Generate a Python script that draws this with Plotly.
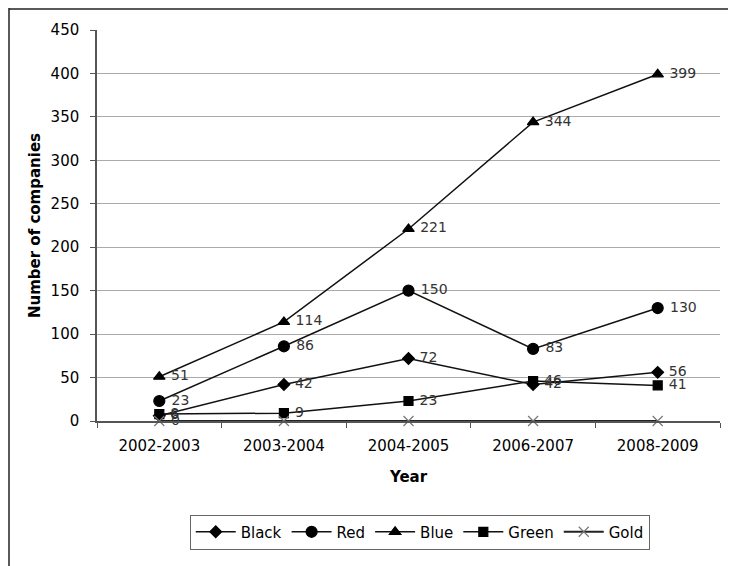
import plotly.graph_objects as go

years = ["2002-2003", "2003-2004", "2004-2005", "2006-2007", "2008-2009"]
black = [6, 42, 72, 42, 56]
red = [23, 86, 150, 83, 130]
blue = [51, 114, 221, 344, 399]
green = [8, 9, 23, 46, 41]
gold = [0, 0, 0, 0, 0]
gold_labels = ["0", "", "", "", ""]

FONT = "DejaVu Sans"

series = [
    ("Black", black, "diamond", 9, "#000000", [str(v) for v in black]),
    ("Red", red, "circle", 11, "#000000", [str(v) for v in red]),
    ("Blue", blue, "triangle-up", 10, "#000000", [str(v) for v in blue]),
    ("Green", green, "square", 9, "#000000", [str(v) for v in green]),
    ("Gold", gold, "x-thin", 10, "#777777", gold_labels),
]

fig = go.Figure()
for name, vals, sym, sz, mcol, labels in series:
    fig.add_trace(go.Scatter(
        x=years, y=vals, name=name, mode="lines+markers+text",
        text=[" " + t if t else t for t in labels], textposition="middle right",
        textfont=dict(family=FONT, size=14, color="#333333"),
        line=dict(color="#111111" if name != "Gold" else "#222222",
                  width=1.5 if name != "Gold" else 2),
        marker=dict(symbol=sym, size=sz, color="#000000",
                    line=dict(color=mcol, width=1.2)),
        cliponaxis=False,
    ))

# page has an 8px body margin, so figure coordinates are page coordinates minus 8
W, H = 736, 566
L, R, T, B = 89, 24, 22, 153
pw, ph = W - L - R, H - T - B

fig.update_layout(
    width=W, height=H,
    margin=dict(l=L, r=R, t=T, b=B),
    paper_bgcolor="white", plot_bgcolor="white",
    font=dict(family=FONT, size=15, color="#000000"),
    showlegend=True,
    legend=dict(orientation="h", x=0.518, xanchor="center", y=-0.284, yanchor="middle",
                bordercolor="#666666", borderwidth=1, font=dict(size=15),
                itemwidth=40),
    xaxis=dict(title=dict(text="<b>Year</b>", font=dict(size=15), standoff=18),
               automargin=False, ticklabelstandoff=10,
               showline=True, linecolor="#555555", linewidth=1.5,
               ticks="outside", tickson="boundaries", ticklen=5, tickcolor="#555555",
               showgrid=False, tickfont=dict(size=15), range=[-0.5, 4.5]),
    yaxis=dict(title=dict(text="<b>Number of companies</b>", font=dict(size=15), standoff=6),
               automargin=False, ticklabelstandoff=8,
               range=[0, 450], dtick=50, showline=True, linecolor="#555555", linewidth=1.5,
               ticks="outside", ticklen=5, tickcolor="#555555",
               showgrid=True, gridcolor="#aaaaaa", gridwidth=1.2,
               tickfont=dict(size=15), zeroline=False),
    shapes=[
        dict(type="line", xref="paper", yref="paper",
             x0=(1 - L) / pw, x1=(1 - L) / pw, y0=1 + T / ph, y1=-(B) / ph - 0.05,
             line=dict(color="#222222", width=1.5)),
        dict(type="line", xref="paper", yref="paper",
             x0=(1 - L) / pw, x1=(W - L) / pw + 0.05, y0=1 + (T - 1) / ph, y1=1 + (T - 1) / ph,
             line=dict(color="#222222", width=1.5)),
    ],
)

fig.write_html("out.html")
